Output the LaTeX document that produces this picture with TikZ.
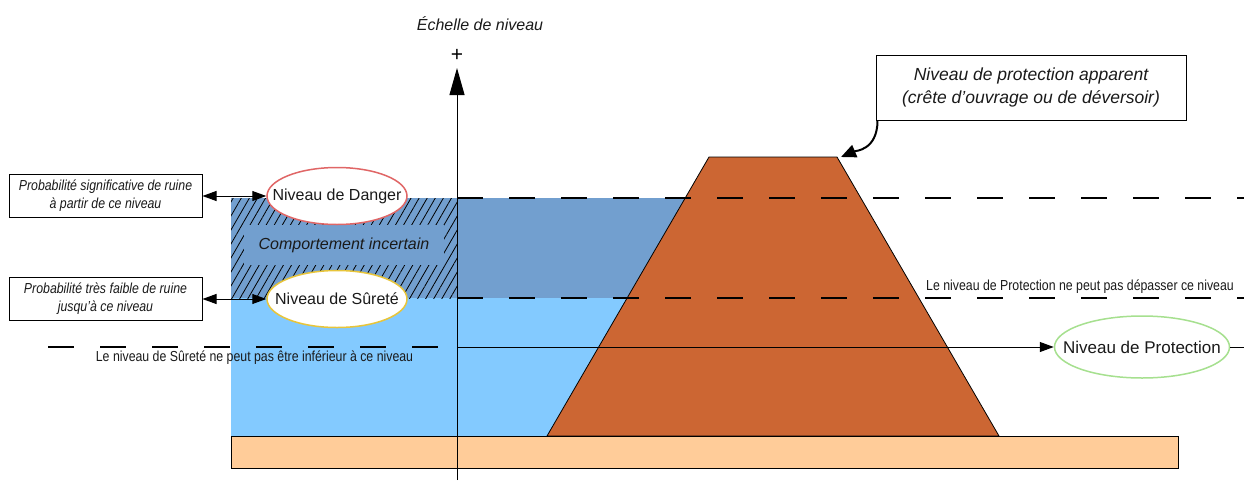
\documentclass[tikz,border=0pt]{standalone}
\usepackage{fontspec}
\setmainfont{Liberation Sans}
\newfontfamily\narrowf[FakeStretch=0.85]{Liberation Sans}
\usetikzlibrary{arrows.meta,patterns.meta,shapes.geometric}
\definecolor{waterdark}{HTML}{729FCF}
\definecolor{waterlight}{HTML}{83CAFF}
\definecolor{damc}{HTML}{CC6633}
\definecolor{groundc}{HTML}{FFCC99}
\definecolor{dangerc}{HTML}{E06666}
\definecolor{surc}{HTML}{E8C53A}
\definecolor{protc}{HTML}{A6E08F}
\definecolor{txt}{HTML}{1A1A1A}
\begin{document}
\begin{tikzpicture}[x=1pt,y=-1pt,
  levelline/.style={line width=1.3pt, dash pattern=on 26pt off 26pt},
  notebox/.style={draw, line width=1pt, fill=white, minimum width=193pt, minimum height=43pt, align=center, inner sep=0pt, text=txt, font=\narrowf\itshape\fontsize{14.5}{18}\selectfont},
  levelell/.style={ellipse, draw, line width=1.5pt, fill=white, minimum width=140pt, minimum height=57pt, inner xsep=-16pt, inner ysep=0pt, text=txt, font=\fontsize{16}{19}\selectfont},
  note/.style={font=\narrowf\fontsize{14.5}{17}\selectfont, inner sep=0pt, text=txt},
  smalltip/.style={line width=1pt, {Triangle[length=14pt,width=10pt]}-{Triangle[length=14pt,width=10pt]}},
]
\useasboundingbox (0,0) rectangle (1244,490);

% water
\fill[waterlight] (231,298) rectangle (640,436);
\fill[waterdark] (231,198) rectangle (700,298);
\fill[pattern={Lines[angle=60,distance=7pt,line width=0.8pt]}, pattern color=black] (231,198) rectangle (457,298);
\node[fill=waterdark, text=txt, font=\itshape\fontsize{16}{19}\selectfont, inner xsep=15pt, inner ysep=13pt] (unc) at (344,245) {Comportement incertain};

% dam and ground
\draw[fill=damc, line width=0.8pt] (547,436) -- (709,157) -- (837,157) -- (999,436) -- cycle;
\draw[fill=groundc, line width=1pt] (231,436) rectangle (1178,468);

% axis
\coordinate (axbot) at (457,480);
\coordinate (axtop) at (457,68);
\draw[line width=1pt, -{Triangle[length=27pt,width=15pt]}] (axbot) -- (axtop);
\node[font=\fontsize{21}{24}\selectfont, inner sep=0pt] (plus) at (457,55) {+};
\node[font=\itshape\fontsize{16}{19}\selectfont, inner sep=0pt, text=txt] (scale) at (480,24) {Échelle de niveau};

% level lines
\coordinate (d0) at (457,198); \coordinate (d1) at (1244,198);
\coordinate (s0) at (457,298); \coordinate (s1) at (1244,298);
\coordinate (p0) at (48,347); \coordinate (pa) at (457,347); \coordinate (p1) at (1244,347);
\draw[levelline] (d0) -- (d1);
\draw[levelline] (s0) -- (s1);
\draw[levelline] (p0) -- (pa);

% notes
\node[note] (nsur) at (254.5,358) {Le niveau de Sûreté ne peut pas être inférieur à ce niveau};
\node[note] (nprot) at (1080,287) {Le niveau de Protection ne peut pas dépasser ce niveau};

% left boxes and ellipses
\node[notebox] (box1) at (105.5,196) {Probabilité significative de ruine\\à partir de ce niveau};
\node[notebox] (box2) at (105.5,299) {Probabilité très faible de ruine\\jusqu’à ce niveau};
\node[levelell, draw=dangerc] (dang) at (337,196) {Niveau de Danger};
\node[levelell, draw=surc] (sur) at (337,299) {Niveau de Sûreté};
\draw[smalltip] (box1.east) -- (dang.west);
\draw[smalltip] (box2.east) -- (sur.west);

% protection
\node[levelell, draw=protc, minimum width=175pt, minimum height=62pt, inner xsep=-19pt, font=\fontsize{17}{20}\selectfont] (prot) at (1142,347) {Niveau de Protection};
\draw[line width=1pt, -{Triangle[length=14pt,width=10pt]}] (pa) -- (prot.west);
\draw[line width=1pt] (prot.east) -- (p1);

% apparent protection box
\node[draw, line width=1pt, fill=white, minimum width=310pt, minimum height=65pt, align=center, inner sep=0pt, text=txt, font=\itshape\fontsize{17.5}{23}\selectfont] (app) at (1031,87.5) {Niveau de protection apparent\\(crête d’ouvrage ou de déversoir)};
\coordinate (crest) at (841,157);
\draw[line width=2pt, -{Triangle[length=15pt,width=13pt]}] ([xshift=2pt]app.south west) .. controls +(0,30) and +(14,-6) .. (crest);
\end{tikzpicture}
\end{document}
